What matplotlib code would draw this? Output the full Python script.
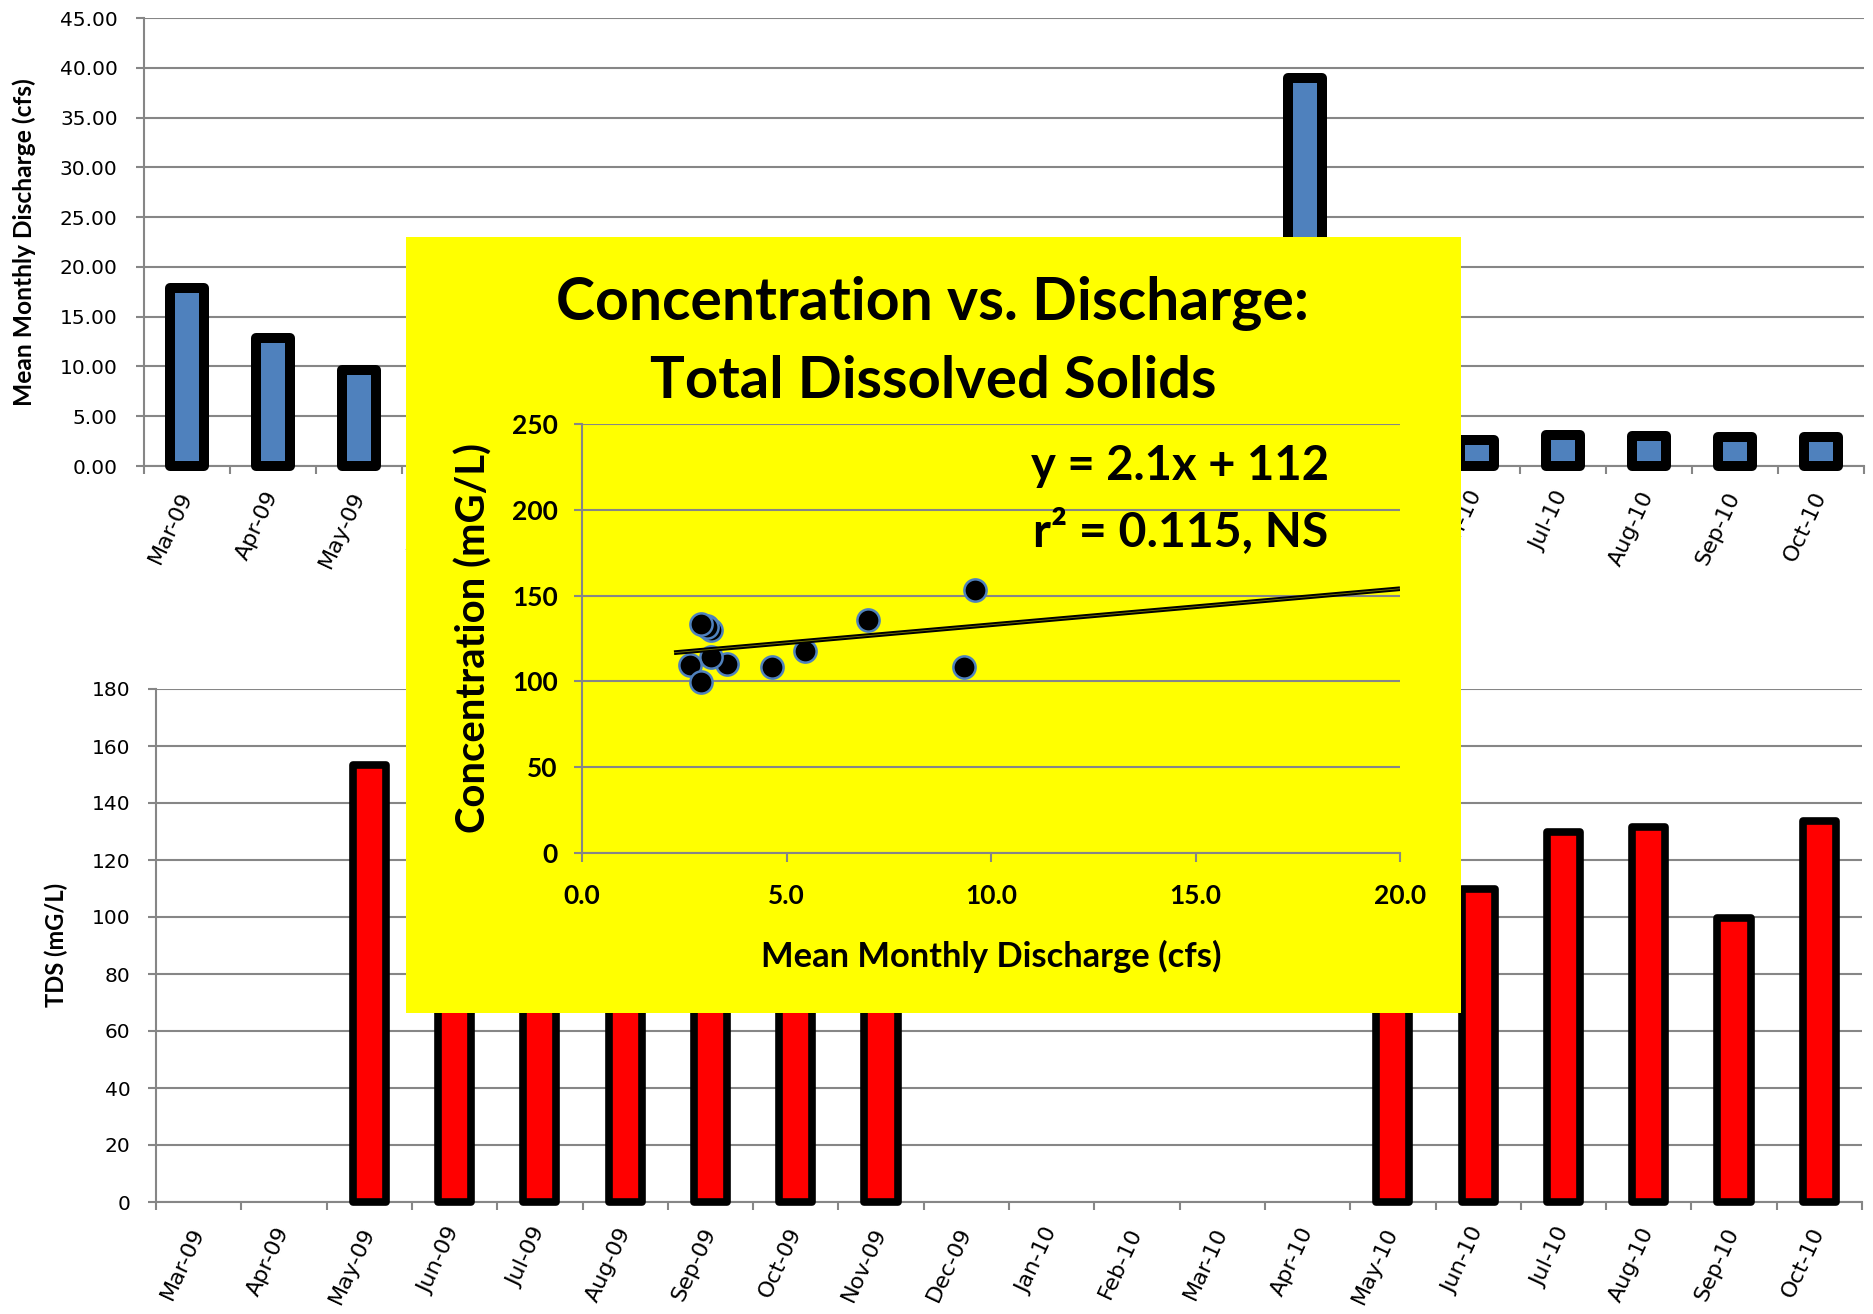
import numpy as np
import matplotlib
matplotlib.use("Agg")
import matplotlib.pyplot as plt
from matplotlib.patches import Rectangle
from matplotlib.ticker import FormatStrFormatter, FixedLocator

# monthly record, Mar-09 .. Oct-10
months = ["Mar-09", "Apr-09", "May-09", "Jun-09", "Jul-09", "Aug-09", "Sep-09",
          "Oct-09", "Nov-09", "Dec-09", "Jan-10", "Feb-10", "Mar-10", "Apr-10",
          "May-10", "Jun-10", "Jul-10", "Aug-10", "Sep-10", "Oct-10"]
discharge = [17.9, 12.9, 9.6, 9.35, 7.0, 5.45, 4.65, 3.55, 3.15, 3.0,
             2.9, 3.1, 4.5, 39.0, 3.05, 2.65, 3.15, 3.05, 2.9, 2.9]
tds = [np.nan, np.nan, 153.5, 108.2, 135.9, 117.9, 108.2, 110.1, 114.4, np.nan,
       np.nan, np.nan, np.nan, np.nan, 132.5, 109.7, 129.7, 131.7, 99.6, 133.7]

# regression reported on the inset
slope = 2.1
intercept = 112
r_squared = 0.115
trend_x = [2.25, 20.0]

W, H = 1873, 1314
fig = plt.figure(figsize=(W / 100, H / 100), dpi=100)

GRID = "#868686"
BOLD = "Lato"


def box(x0, y0, x1, y1):
    # pixel box (top-left origin) -> figure fraction rect
    return [x0 / W, 1 - y1 / H, (x1 - x0) / W, (y1 - y0) / H]


def style_bar_axes(ax, ymax, step, fmt, ypad):
    n = len(months)
    ax.set_xlim(-0.5, n - 0.5)
    ax.set_ylim(0, ymax)
    ax.set_yticks(np.arange(0, ymax + step / 2, step))
    ax.yaxis.set_major_formatter(FormatStrFormatter(fmt))
    ax.yaxis.grid(True, color=GRID, linewidth=1.5)
    ax.set_axisbelow(True)
    for s in ["top", "right"]:
        ax.spines[s].set_visible(False)
    for s in ["left", "bottom"]:
        ax.spines[s].set_color(GRID)
        ax.spines[s].set_linewidth(1.5)
    ax.set_xticks(np.arange(n))
    ax.set_xticklabels(months, rotation=65, ha="right", va="center",
                       rotation_mode="anchor", fontsize=16, family="DejaVu Sans")
    ax.tick_params(axis="x", which="major", length=0, pad=19)
    ax.xaxis.set_minor_locator(FixedLocator(np.arange(n + 1) - 0.5))
    ax.tick_params(axis="x", which="minor", length=6, width=1.5, color=GRID)
    ax.tick_params(axis="y", length=5.5, width=1.5, color=GRID, pad=ypad,
                   labelsize=14.5)


x = np.arange(len(months))

# discharge bars
ax1 = fig.add_axes(box(144, 18, 1864, 466))
ax1.bar(x, discharge, width=0.39, color="#4F81BD", edgecolor="black",
        linewidth=7.2, joinstyle="round", clip_on=False, zorder=3)
style_bar_axes(ax1, 45, 5, "%.2f", 13.5)

# TDS bars
ax2 = fig.add_axes(box(156, 689, 1862, 1202))
ax2.bar(x, tds, width=0.39, color="#FF0000", edgecolor="black",
        linewidth=5.5, joinstyle="round", clip_on=False, zorder=3)
style_bar_axes(ax2, 180, 20, "%d", 12.7)

t_q = fig.text(24 / W, 1 - 242 / H, "Mean Monthly Discharge (cfs)", rotation=90,
               ha="center", va="center", family=BOLD, weight="bold", fontsize=17)
t_tds = fig.text(56 / W, 1 - 945 / H, "TDS (mG/L)", rotation=90,
                 ha="center", va="center", family=BOLD, weight="bold", fontsize=17)

# yellow panel with the concentration / discharge scatter
panel = Rectangle((406 / W, 1 - 1013 / H), 1055 / W, 776 / H,
                  transform=fig.transFigure, facecolor="#FFFF00",
                  edgecolor="none", zorder=5)
fig.add_artist(panel)

ax3 = fig.add_axes(box(582, 424, 1400, 853))
ax3.set_zorder(6)
ax3.patch.set_visible(False)
ax3.set_xlim(0, 20)
ax3.set_ylim(0, 250)
ax3.set_xticks([0, 5, 10, 15, 20])
ax3.set_yticks(np.arange(0, 251, 50))
ax3.xaxis.set_major_formatter(FormatStrFormatter("%.1f"))
ax3.yaxis.grid(True, color=GRID, linewidth=1.5)
ax3.set_axisbelow(True)
for s in ["top", "right"]:
    ax3.spines[s].set_visible(False)
for s in ["left", "bottom"]:
    ax3.spines[s].set_color(GRID)
    ax3.spines[s].set_linewidth(1.5)
ax3.tick_params(axis="x", length=6.5, width=1.5, color=GRID, pad=16)
ax3.tick_params(axis="y", length=6, width=1.5, color=GRID, pad=11.5)
for lab in ax3.get_xticklabels() + ax3.get_yticklabels():
    lab.set_family(BOLD)
    lab.set_weight("bold")
    lab.set_fontsize(19)

q = np.array(discharge)
c = np.array(tds)
has = ~np.isnan(c)
ax3.plot(q[has], c[has], "o", ms=16, mfc="black", mec="#4F81BD", mew=1.8,
         zorder=4, clip_on=False)
tx = np.array(trend_x)
ax3.plot(tx, slope * tx + intercept, color="black", lw=3.4, zorder=5,
         solid_capstyle="butt")
ax3.plot(tx, slope * tx + intercept, color="#7a7a00", lw=0.6, zorder=5,
         solid_capstyle="butt")

title1 = fig.text(933 / W, 1 - 320 / H, "Concentration vs. Discharge:",
                  ha="center", va="baseline", family=BOLD, weight="bold",
                  fontsize=40, zorder=7)
title2 = fig.text(933 / W, 1 - 398 / H, "Total Dissolved Solids",
                  ha="center", va="baseline", family=BOLD, weight="bold",
                  fontsize=40, zorder=7)
eq1 = fig.text(1031 / W, 1 - 480 / H, f"y = {slope}x + {intercept}",
               ha="left", va="baseline", family=BOLD, weight="bold",
               fontsize=30, zorder=7)
eq2 = fig.text(1033 / W, 1 - 546 / H, f"r\u00b2 = {r_squared}, NS",
               ha="left", va="baseline", family=BOLD, weight="bold",
               fontsize=30, zorder=7)
xl3 = fig.text(991 / W, 1 - 967 / H, "Mean Monthly Discharge (cfs)",
               ha="center", va="baseline", family=BOLD, weight="bold",
               fontsize=24, zorder=7)
yl3 = fig.text(474 / W, 1 - 638 / H, "Concentration (mG/L)", rotation=90,
               ha="center", va="center", family=BOLD, weight="bold",
               fontsize=28, zorder=7)

# scale the bold captions to their measured lengths
renderer = fig.canvas.get_renderer()
for t, length, vertical in [(title1, 753, False), (title2, 566, False),
                            (eq1, 297, False), (eq2, 294, False),
                            (xl3, 461, False), (yl3, 389, True),
                            (t_q, 328, True), (t_tds, 125, True)]:
    bb = t.get_window_extent(renderer)
    size = bb.height if vertical else bb.width
    t.set_fontsize(t.get_fontsize() * length / size)

fig.savefig("out.png", dpi=100)
